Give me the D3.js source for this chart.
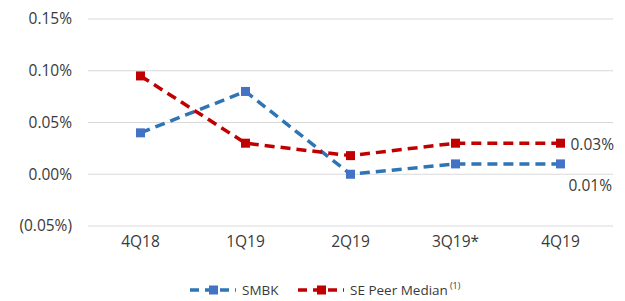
<!DOCTYPE html>
<html>
<head>
<meta charset="utf-8">
<script src="https://cdn.jsdelivr.net/npm/d3@7"></script>
<style>
  body { margin: 0; background: #fff; }
  text { font-family: "Open Sans", "Liberation Sans", sans-serif; fill: #3a3a3a; }
</style>
</head>
<body>
<div id="chart"></div>
<script>
const quarters = ['4Q18', '1Q19', '2Q19', '3Q19*', '4Q19'];
const smbk = [0.040, 0.080, 0.000, 0.010, 0.010];
const peers = [0.095, 0.030, 0.018, 0.030, 0.030];
const yTicks = [-0.05, 0, 0.05, 0.10, 0.15];

const width = 625;
const height = 301;
const margin = { top: 19, right: 12, bottom: 75, left: 88 };

const svg = d3.select('#chart').append('svg').attr('width', width).attr('height', height);

const x = d3.scalePoint().domain(quarters).range([margin.left, width - margin.right]).padding(0.5);
const y = d3.scaleLinear().domain([-0.05, 0.15]).range([height - margin.bottom, margin.top]);

function pct(v) {
  const s = Math.abs(v).toFixed(2) + '%';
  return v < 0 ? `(${s})` : s;
}

svg.append('g')
  .selectAll('line')
  .data(yTicks)
  .join('line')
  .attr('x1', margin.left)
  .attr('x2', width - margin.right)
  .attr('y1', (d) => y(d))
  .attr('y2', (d) => y(d))
  .attr('stroke', '#d9d9d9')
  .attr('stroke-width', 1);

svg.append('g')
  .selectAll('text')
  .data(yTicks)
  .join('text')
  .attr('x', 72)
  .attr('y', (d) => y(d))
  .attr('dy', '0.35em')
  .attr('text-anchor', 'end')
  .attr('font-size', 15.5)
  .text(pct);

svg.append('g')
  .selectAll('text')
  .data(quarters)
  .join('text')
  .attr('x', (d) => x(d))
  .attr('y', 247)
  .attr('text-anchor', 'middle')
  .attr('font-size', 15.5)
  .text((d) => d);

const series = [
  { name: 'SMBK', values: smbk, line: '#2e75b6', marker: '#4472c4' },
  { name: 'SE Peer Median', values: peers, line: '#c00000', marker: '#c00000' }
];

const line = d3.line().x((d, i) => x(quarters[i])).y((d) => y(d));

series.forEach((s) => {
  svg.append('path')
    .attr('d', line(s.values))
    .attr('fill', 'none')
    .attr('stroke', s.line)
    .attr('stroke-width', 3.5)
    .attr('stroke-dasharray', '10,6');

  svg.append('g')
    .selectAll('rect')
    .data(s.values)
    .join('rect')
    .attr('x', (d, i) => x(quarters[i]) - 4.5)
    .attr('y', (d) => y(d) - 4.5)
    .attr('width', 9)
    .attr('height', 9)
    .attr('fill', s.marker);
});

// end labels
const last = quarters.length - 1;
svg.append('text')
  .attr('x', x(quarters[last]) + 10)
  .attr('y', y(peers[last]) + 1)
  .attr('dy', '0.35em')
  .attr('font-size', 15.5)
  .text(pct(peers[last]));
svg.append('text')
  .attr('x', x(quarters[last]) + 8)
  .attr('y', y(smbk[last]) + 22)
  .attr('dy', '0.35em')
  .attr('font-size', 15.5)
  .text(pct(smbk[last]));

// legend
const legendY = 290;
const legendItems = [
  { s: series[0], x: 190 },
  { s: series[1], x: 298 }
];
legendItems.forEach(({ s, x: lx }) => {
  const g = svg.append('g').attr('transform', `translate(${lx},${legendY})`);
  g.append('line')
    .attr('x1', 0).attr('x2', 46).attr('y1', 0).attr('y2', 0)
    .attr('stroke', s.line).attr('stroke-width', 3.5).attr('stroke-dasharray', '9,6');
  g.append('rect').attr('x', 19).attr('y', -4.5).attr('width', 9).attr('height', 9).attr('fill', s.marker);
  const t = g.append('text').attr('x', 52).attr('y', 0).attr('dy', '0.35em').attr('font-size', 13.5).text(s.name);
  if (s.name !== 'SMBK') {
    t.append('tspan').attr('dy', '-0.6em').attr('font-size', 9).attr('dx', 2).text('(1)');
  }
});
</script>
</body>
</html>
